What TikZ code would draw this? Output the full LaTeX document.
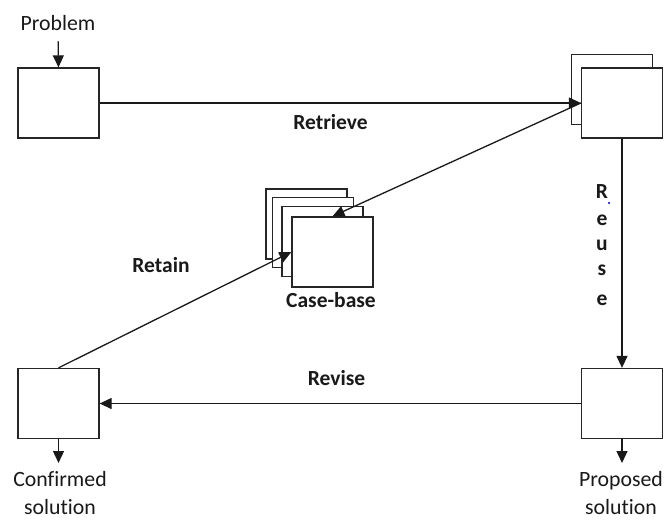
\documentclass[tikz,border=0pt]{standalone}
\usepackage{fontspec}
\setmainfont{Carlito}[RawFeature={-liga;-clig;-dlig;-calt}]
\usetikzlibrary{arrows.meta}
\begin{document}
\begin{tikzpicture}[x=1pt,y=-1pt,
  box/.style={draw=black!85, line width=1.3pt, fill=white, minimum width=81pt, minimum height=70pt, inner sep=0pt},
  arr/.style={draw=black!90, line width=1.3pt, -{Triangle[length=12pt,width=11pt]}},
  lbl/.style={font=\fontsize{21.8}{28}\selectfont, inner sep=0pt, text=black!90},
  blbl/.style={font=\fontsize{21.5}{28}\selectfont\bfseries, inner sep=0pt, text=black!90}]
\useasboundingbox (0,0) rectangle (665,520);
% boxes
\node[box] (P) at (58.5,103) {};
\node[box] (Rb) at (612,89.5) {};
\node[box] (Rf) at (622,103) {};
\node[box] (C) at (58.5,403.5) {};
\node[box] (S) at (622,403.5) {};
\node[box] (cb1) at (306.5,224) {};
\node[box] (cb2) at (313,232.5) {};
\node[box] (cb3) at (322.5,241.5) {};
\node[box] (cb4) at (332.5,252) {};
% labels
\node[lbl] (prob) at (58,23.5) {Problem};
\node[blbl] (retrieve) at (330.5,122) {Retrieve};
\node[blbl] (retain) at (161,265) {Retain};
\node[blbl] (revise) at (336.5,378) {Revise};
\node[blbl] (cbase) at (331,300) {Case-base};
\node[blbl] (r1) at (602,192) {R};
\node[blbl] (r2) at (602,220) {e};
\node[blbl] (r3) at (602,245) {u};
\node[blbl] (r4) at (602,270) {s};
\node[blbl] (r5) at (602,300) {e};
\fill[blue!70!black] (609,203) circle (1.1pt);
\node[lbl, align=center] (conf) at (60,493) {Confirmed\\solution};
\node[lbl, align=center] (prop) at (621,493) {Proposed\\solution};
% connectors
\coordinate (cend) at (58.5,463);
\coordinate (pend) at (622,463);
\draw[arr, shorten <=10pt] (prob.south) -- (P.north);
\draw[arr] (P.east) -- (Rf.west);
\draw[arr] (Rf.south) -- (S.north);
\draw[arr] (S.west) -- (C.east);
\draw[arr] (C.south) -- (cend);
\draw[arr] (S.south) -- (pend);
\draw[arr] (C.north) -- (cb4.west);
\draw[arr] (Rf.west) -- (cb4.north);
\end{tikzpicture}
\end{document}
